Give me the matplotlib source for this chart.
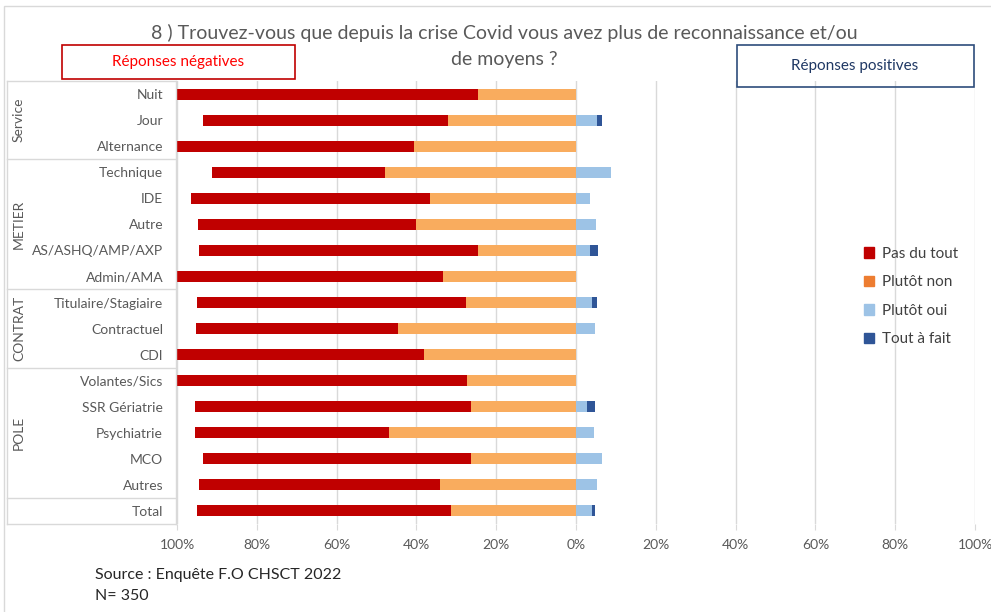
import matplotlib.pyplot as plt
import matplotlib.patches as patches
from matplotlib.lines import Line2D
from matplotlib.transforms import blended_transform_factory

plt.rcParams['font.family'] = ['Lato', 'DejaVu Sans']

categories = ["Nuit", "Jour", "Alternance", "Technique", "IDE", "Autre",
              "AS/ASHQ/AMP/AXP", "Admin/AMA", "Titulaire/Stagiaire", "Contractuel",
              "CDI", "Volantes/Sics", "SSR Gériatrie", "Psychiatrie", "MCO", "Autres", "Total"]
pas_du_tout = [75.4, 61.6, 59.5, 43.5, 59.8, 54.8, 70.0, 66.7, 67.4, 50.6,
               62.0, 72.8, 69.3, 48.7, 67.2, 60.4, 63.7]
plutot_non = [24.6, 32.0, 40.5, 47.8, 36.6, 40.0, 24.6, 33.3, 27.6, 44.6,
              38.0, 27.2, 26.2, 46.9, 26.4, 34.2, 31.4]
plutot_oui = [0, 5.3, 0, 8.7, 3.5, 5.1, 3.5, 0, 3.9, 4.7,
              0, 0, 2.7, 4.4, 6.4, 5.3, 3.9]
tout_a_fait = [0, 1.2, 0, 0, 0, 0, 1.9, 0, 1.3, 0,
               0, 0, 2.0, 0, 0, 0, 0.8]
groups = [("Service", 0, 2), ("METIER", 3, 7), ("CONTRAT", 8, 10), ("POLE", 11, 15)]
ticks = [-100, -80, -60, -40, -20, 0, 20, 40, 60, 80, 100]

c_pas = "#C00000"
c_non = "#F9AC5E"
c_oui = "#9DC3E6"
c_tout = "#2F5597"

W, H = 991, 612
fig = plt.figure(figsize=(W / 100, H / 100), dpi=100)
ax = fig.add_axes([177 / W, 1 - 524 / H, (975 - 177) / W, (524 - 81) / H])

y = list(range(len(categories)))
neg_total = [a + b for a, b in zip(pas_du_tout, plutot_non)]
ax.barh(y, pas_du_tout, left=[-t for t in neg_total], height=0.42, color=c_pas, label="Pas du tout")
ax.barh(y, plutot_non, left=[-v for v in plutot_non], height=0.42, color=c_non, label="Plutôt non")
ax.barh(y, plutot_oui, left=0, height=0.42, color=c_oui, label="Plutôt oui")
ax.barh(y, tout_a_fait, left=plutot_oui, height=0.42, color=c_tout, label="Tout à fait")

ax.set_xlim(-100, 100)
ax.set_ylim(len(categories) - 0.5, -0.5)
ax.set_xticks(ticks)
ax.set_xticklabels([f"{abs(t)}%" for t in ticks], fontsize=10, color="#595959")
ax.set_yticks(y)
ax.set_yticklabels(categories, fontsize=10, color="#595959")
ax.tick_params(axis='y', length=0, pad=10)
ax.tick_params(axis='x', length=4, color="#D9D9D9", pad=7)
ax.grid(axis='x', color="#D9D9D9", linewidth=1)
ax.set_axisbelow(True)
for s in ax.spines.values():
    s.set_visible(False)

# category boxes on the left
tr = blended_transform_factory(fig.transFigure, ax.transData)
x0, x1 = 7 / W, 176 / W
for b in [-0.5, 2.5, 7.5, 10.5, 15.5, 16.5]:
    fig.add_artist(Line2D([x0, x1], [b, b], transform=tr, color="#D9D9D9", lw=1))
for xv in [x0, x1]:
    fig.add_artist(Line2D([xv, xv], [-0.5, 16.5], transform=tr, color="#D9D9D9", lw=1))
for name, a, b in groups:
    ax.text(19 / W, (a + b) / 2, name, transform=tr, rotation=90, ha='center', va='center',
            fontsize=10, color="#595959")

# outer frame
fig.add_artist(patches.Rectangle((4 / W, -0.01), 1, 1 - 6 / H + 0.01, transform=fig.transFigure,
                                 fill=False, edgecolor="#D9D9D9", lw=1))

fig.text(504 / W, 1 - 33 / H, "8 ) Trouvez-vous que depuis la crise Covid vous avez plus de reconnaissance et/ou",
         ha='center', va='center', fontsize=14, color="#595959")
fig.text(504 / W, 1 - 60 / H, "de moyens ?", ha='center', va='center', fontsize=14, color="#595959")

fig.add_artist(patches.Rectangle((62 / W, 1 - 79 / H), 233 / W, 34 / H, transform=fig.transFigure,
                                 fill=False, edgecolor="#C00000", lw=1.2))
fig.text(178 / W, 1 - 62 / H, "Réponses négatives", ha='center', va='center', fontsize=11, color="#FF0000")
fig.add_artist(patches.Rectangle((737 / W, 1 - 87 / H), 237 / W, 42 / H, transform=fig.transFigure,
                                 fill=False, edgecolor="#2E4D7B", lw=1.2))
fig.text(855 / W, 1 - 66 / H, "Réponses positives", ha='center', va='center', fontsize=11, color="#1F3864")

handles = [patches.Patch(color=c_pas), patches.Patch(color="#ED7D31"),
           patches.Patch(color=c_oui), patches.Patch(color=c_tout)]
fig.legend(handles, ["Pas du tout", "Plutôt non", "Plutôt oui", "Tout à fait"],
           loc='upper left', bbox_to_anchor=(850 / W, 1 - 233 / H), frameon=False,
           fontsize=11, handlelength=0.7, handleheight=0.7, handletextpad=0.5,
           labelspacing=0.95, labelcolor="#404040")

fig.text(95 / W, 1 - 575 / H, "Source : Enquête F.O CHSCT 2022", ha='left', va='center', fontsize=11.5, color="#262626")
fig.text(95 / W, 1 - 596 / H, "N= 350", ha='left', va='center', fontsize=11.5, color="#262626")

fig.savefig("out.png", dpi=100)
